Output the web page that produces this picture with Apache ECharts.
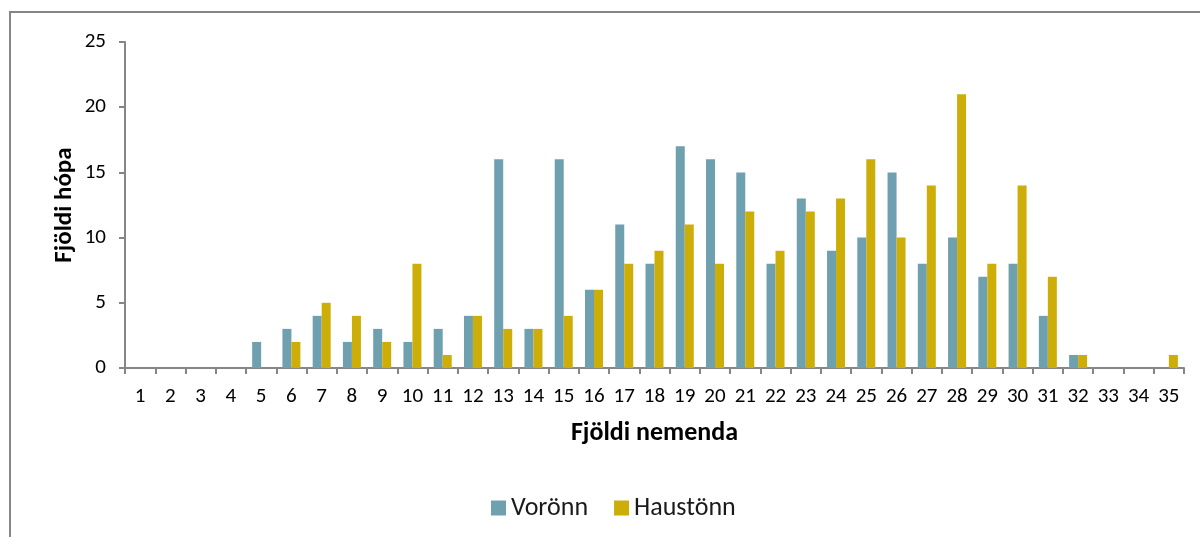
<!DOCTYPE html>
<html>
<head>
<meta charset="utf-8">
<script src="https://cdn.jsdelivr.net/npm/echarts@6/dist/echarts.min.js"></script>
<style>
  html, body { margin: 0; padding: 0; background: #fff; }
  #chart { width: 1200px; height: 537px; }
</style>
</head>
<body>
<div id="chart"></div>
<script>
// fjöldi nemenda (x-ás)
const categories = ['1', '2', '3', '4', '5', '6', '7', '8', '9', '10', '11', '12', '13', '14', '15', '16', '17', '18',
  '19', '20', '21', '22', '23', '24', '25', '26', '27', '28', '29', '30', '31', '32', '33', '34', '35']
const voronn = [0, 0, 0, 0, 2, 3, 4, 2, 3, 2, 3, 4, 16, 3, 16, 6, 11, 8, 17, 16, 15, 8, 13, 9, 10, 15, 8, 10, 7, 8, 4, 1, 0, 0, 0]
const haustonn = [0, 0, 0, 0, 0, 2, 5, 4, 2, 8, 1, 4, 3, 3, 4, 6, 8, 9, 11, 8, 12, 9, 12, 13, 16, 10, 14, 21, 8, 14, 7, 1, 0, 0, 1]
const yTicks = [0, 5, 10, 15, 20, 25]

const font = 'Carlito, Lato, "Open Sans", sans-serif'
const axisGray = '#868686'

const myEchart = echarts.init(document.getElementById('chart'))
const options = {
  animation: false,
  textStyle: { fontFamily: font },
  graphic: [
    {
      type: 'rect',
      shape: { x: 10, y: 12, width: 1200, height: 600 },
      style: { fill: 'none', stroke: axisGray, lineWidth: 2 }
    }
  ],
  grid: {
    left: 125,
    right: 16,
    top: 42,
    bottom: 169
  },
  legend: {
    left: 486,
    top: 490,
    itemWidth: 15,
    itemHeight: 15,
    itemGap: 26,
    icon: 'rect',
    textStyle: { fontSize: 26, color: '#1a1a1a', fontFamily: font }
  },
  xAxis: {
    type: 'category',
    data: categories,
    name: 'Fjöldi nemenda',
    nameLocation: 'middle',
    nameGap: 52,
    nameMoveOverlap: false,
    nameTextStyle: { fontSize: 26, fontWeight: 'bold', color: '#000', fontFamily: font },
    axisLine: { lineStyle: { color: axisGray, width: 2 } },
    axisTick: { show: true, length: 6, lineStyle: { color: axisGray, width: 2 } },
    axisLabel: { fontSize: 21, color: '#000', margin: 18, fontFamily: font },
    splitLine: { show: false }
  },
  yAxis: {
    type: 'value',
    min: 0,
    max: yTicks[yTicks.length - 1],
    interval: 5,
    name: 'Fjöldi hópa',
    nameLocation: 'middle',
    nameGap: 48,
    nameMoveOverlap: false,
    nameTextStyle: { fontSize: 25, fontWeight: 'bold', color: '#000', fontFamily: font },
    axisLine: { show: true, lineStyle: { color: axisGray, width: 2 } },
    axisTick: { show: true, inside: false, length: 6, lineStyle: { color: axisGray, width: 2 } },
    axisLabel: { fontSize: 21, color: '#000', margin: 19, fontFamily: font },
    splitLine: { show: false }
  },
  series: [
    {
      name: 'Vorönn',
      type: 'bar',
      data: voronn,
      barWidth: 9,
      barGap: '0%',
      itemStyle: { color: '#6FA0B0' }
    },
    {
      name: 'Haustönn',
      type: 'bar',
      data: haustonn,
      barWidth: 9,
      barGap: '0%',
      itemStyle: { color: '#CDAE08' }
    }
  ]
}
myEchart.setOption(options)
</script>
</body>
</html>
